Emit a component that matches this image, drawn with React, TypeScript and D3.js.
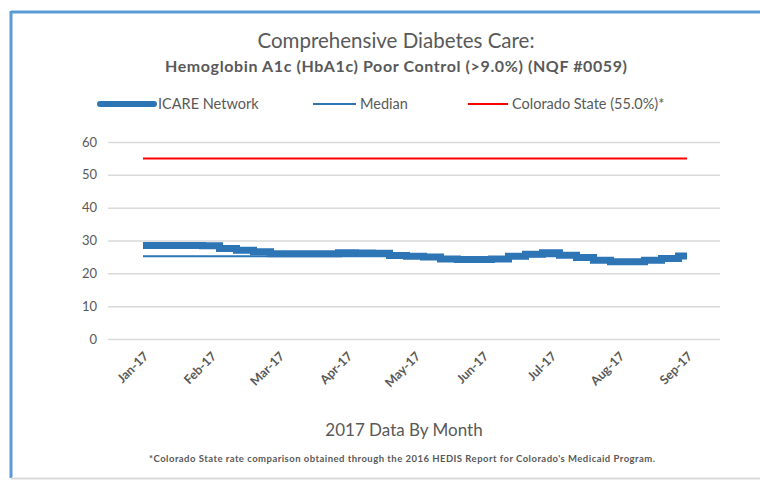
import React, { useEffect, useRef } from 'react';
import * as d3 from 'd3';

// month tick labels (one tick every 4 weekly points)
const monthLabels = ['Jan-17', 'Feb-17', 'Mar-17', 'Apr-17', 'May-17', 'Jun-17', 'Jul-17', 'Aug-17', 'Sep-17'];

// weekly ICARE Network rate (%)
const icareValues = [
  28.5, 28.5, 28.5, 28.5, 28.4, 27.6, 27.0, 26.6,
  26.0, 26.0, 26.0, 26.0, 26.3, 26.2, 26.1, 25.4,
  25.2, 25.0, 24.4, 24.2, 24.2, 24.4, 25.2, 25.8,
  26.3, 25.5, 24.8, 24.0, 23.5, 23.5, 24.0, 24.5,
  25.3,
];

// weekly median (%), mostly hidden under the ICARE line
const medianValues = [
  25.2, 25.2, 25.2, 25.2, 25.2, 25.2, 25.2, 25.2,
  25.2, 25.2, 25.2, 25.2, 25.2, 25.2, 25.2, 25.0,
  25.0, 24.8, 24.6, 24.5, 24.5, 24.6, 25.0, 25.2,
  25.2, 25.0, 24.6, 24.3, 24.0, 24.0, 24.3, 24.6,
  25.0,
];

const stateRate = 55.0;
const yTicks = [0, 10, 20, 30, 40, 50, 60];

const App = () => {
  const svgRef = useRef<SVGSVGElement>(null);

  useEffect(() => {
    if (!svgRef.current) return;
    document.body.style.margin = '0';

    const svg = d3.select(svgRef.current);
    svg.selectAll('*').remove();

    const width = 760;
    const height = 481;
    const font = 'Lato, "Open Sans", sans-serif';
    const textColor = '#595959';

    // chart frame: blue top/left, grey bottom
    svg.append('rect').attr('width', width).attr('height', height).attr('fill', '#fff');
    svg.append('line').attr('x1', 11).attr('x2', width).attr('y1', 12).attr('y2', 12)
      .attr('stroke', '#5B9BD5').attr('stroke-width', 3);
    svg.append('line').attr('x1', 11).attr('x2', 11).attr('y1', 11).attr('y2', 478)
      .attr('stroke', '#5B9BD5').attr('stroke-width', 3);
    svg.append('line').attr('x1', 11).attr('x2', width).attr('y1', 478.5).attr('y2', 478.5)
      .attr('stroke', '#D9D9D9').attr('stroke-width', 2);

    // titles
    svg.append('text')
      .attr('x', 396).attr('y', 48)
      .attr('text-anchor', 'middle')
      .style('font-family', font).style('font-size', '20.5px')
      .attr('fill', textColor)
      .text('Comprehensive Diabetes Care:');

    svg.append('text')
      .attr('x', 396).attr('y', 72)
      .attr('text-anchor', 'middle')
      .attr('textLength', 462).attr('lengthAdjust', 'spacing')
      .style('font-family', font).style('font-size', '16px').style('font-weight', 'bold')
      .attr('fill', textColor)
      .text('Hemoglobin A1c (HbA1c) Poor Control (>9.0%) (NQF #0059)');

    // scales
    const x = d3.scaleLinear().domain([0, icareValues.length - 1]).range([143, 687]);
    const y = d3.scaleLinear().domain([0, 60]).range([339, 142]);

    // grid lines
    svg.append('g')
      .attr('transform', 'translate(108,0)')
      .call(d3.axisLeft(y).tickValues(yTicks).tickSize(-612).tickFormat(() => ''))
      .call(g => g.select('.domain').remove())
      .selectAll('line')
      .attr('stroke', '#D9D9D9')
      .attr('stroke-width', 1.5);

    // y tick labels
    svg.append('g')
      .selectAll('text')
      .data(yTicks)
      .enter()
      .append('text')
      .attr('x', 97)
      .attr('y', d => y(d))
      .attr('dy', '0.35em')
      .attr('text-anchor', 'end')
      .style('font-family', font).style('font-size', '13px')
      .attr('fill', textColor)
      .text(d => d);

    // x tick labels, rotated
    svg.append('g')
      .selectAll('text')
      .data(monthLabels)
      .enter()
      .append('text')
      .attr('transform', (d, i) => `translate(${x(i * 4) + 3},354) rotate(-45)`)
      .attr('text-anchor', 'end')
      .attr('dy', '0.35em')
      .style('font-family', font).style('font-size', '12.5px').style('font-weight', 'bold')
      .attr('fill', textColor)
      .text(d => d);

    // lines
    const line = d3.line<number>()
      .x((d, i) => x(i))
      .y(d => y(d))
      .curve(d3.curveStep);

    svg.append('path')
      .datum(medianValues)
      .attr('fill', 'none')
      .attr('stroke', '#2E75B6')
      .attr('stroke-width', 2)
      .attr('d', line);

    svg.append('path')
      .datum(icareValues)
      .attr('fill', 'none')
      .attr('stroke', '#2E75B6')
      .attr('stroke-width', 7)
      .attr('stroke-linejoin', 'miter')
      .attr('d', line);

    const flat = d3.line<number>().x((d, i) => x(i)).y(() => y(stateRate));
    svg.append('path')
      .datum(icareValues)
      .attr('fill', 'none')
      .attr('stroke', '#FF0000')
      .attr('stroke-width', 2)
      .attr('d', flat);

    // legend
    const legendItems = [
      { name: 'ICARE Network', color: '#2E75B6', w: 6, x0: 100, x1: 154 },
      { name: 'Median', color: '#2E75B6', w: 2, x0: 313, x1: 356 },
      { name: 'Colorado State (55.0%)*', color: '#FF0000', w: 2, x0: 468, x1: 508 },
    ];
    const legend = svg.append('g');
    legendItems.forEach(item => {
      legend.append('line')
        .attr('x1', item.x0).attr('x2', item.x1)
        .attr('y1', 104).attr('y2', 104)
        .attr('stroke', item.color)
        .attr('stroke-width', item.w)
        .attr('stroke-linecap', item.w > 3 ? 'round' : 'butt');
      legend.append('text')
        .attr('x', item.x1 + 4).attr('y', 104)
        .attr('dy', '0.35em')
        .style('font-family', font).style('font-size', '14.5px')
        .attr('fill', textColor)
        .text(item.name);
    });

    // axis title and footnote
    svg.append('text')
      .attr('x', 404).attr('y', 436)
      .attr('text-anchor', 'middle')
      .style('font-family', font).style('font-size', '17px')
      .attr('fill', textColor)
      .text('2017 Data By Month');

    svg.append('text')
      .attr('x', 402).attr('y', 462)
      .attr('text-anchor', 'middle')
      .attr('textLength', 506).attr('lengthAdjust', 'spacing')
      .style('font-family', font).style('font-size', '9.5px').style('font-weight', 'bold')
      .attr('fill', textColor)
      .text("*Colorado State rate comparison obtained through the 2016 HEDIS Report for Colorado's Medicaid Program.");
  }, []);

  return <svg ref={svgRef} width={760} height={481} style={{ display: 'block' }}></svg>;
};

export default App;
